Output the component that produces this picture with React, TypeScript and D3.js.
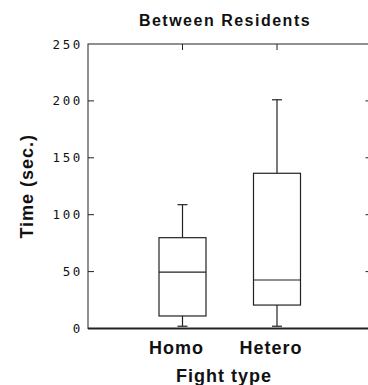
import { useRef, useEffect } from 'react';
import * as d3 from 'd3';

const categories = ['Homo', 'Hetero'];
const whiskerLow = [2, 2];
const quartile1 = [11, 20.6];
const medians = [49.5, 42.6];
const quartile3 = [79.8, 136.4];
const whiskerHigh = [108.8, 201];
const yTicks = [0, 50, 100, 150, 200, 250];

export default function App() {
  const svgRef = useRef<SVGSVGElement>(null);

  useEffect(() => {
    if (!svgRef.current) return;
    const width = 368;
    const height = 385;
    const left = 88;
    const right = 371.5;
    const top = 44;
    const bottom = 328.5;
    const ink = '#222';

    const svg = d3.select(svgRef.current);
    svg.selectAll('*').remove();
    svg.attr('width', width).attr('height', height);

    const x = d3.scaleLinear().domain([0, categories.length + 1]).range([left, right]);
    const y = d3.scaleLinear().domain([0, 250]).range([bottom, top]);

    // Frame
    svg.append('rect')
      .attr('x', left).attr('y', top)
      .attr('width', right - left).attr('height', bottom - top)
      .attr('fill', 'none').attr('stroke', ink).attr('stroke-width', 1);
    svg.append('line')
      .attr('x1', left).attr('x2', right)
      .attr('y1', bottom).attr('y2', bottom)
      .attr('stroke', ink).attr('stroke-width', 1.8);

    // Y ticks, left and right, pointing inward
    const yAxis = svg.append('g');
    yTicks.forEach(t => {
      if (t > 0 && t < 250) {
        yAxis.append('line')
          .attr('x1', left).attr('x2', left + 6)
          .attr('y1', y(t)).attr('y2', y(t))
          .attr('stroke', ink);
        yAxis.append('line')
          .attr('x1', right).attr('x2', right - 6)
          .attr('y1', y(t)).attr('y2', y(t))
          .attr('stroke', ink);
      }
      yAxis.append('text')
        .attr('x', 83)
        .attr('y', y(t))
        .attr('dy', '0.36em')
        .attr('text-anchor', 'end')
        .attr('font-family', '"DejaVu Sans Mono", monospace')
        .attr('font-size', 12.5)
        .attr('letter-spacing', 2.6)
        .attr('fill', '#111')
        .text(String(t));
    });

    // Top ticks at categories
    categories.forEach((_, i) => {
      svg.append('line')
        .attr('x1', x(i + 1)).attr('x2', x(i + 1))
        .attr('y1', top).attr('y2', top + 6)
        .attr('stroke', ink);
    });

    // Boxes
    const half = 23.5;
    const cap = 5;
    categories.forEach((_, i) => {
      const cx = x(i + 1);
      const g = svg.append('g').attr('stroke', ink).attr('stroke-width', 1.2).attr('fill', 'none');
      g.append('line').attr('x1', cx).attr('x2', cx).attr('y1', y(quartile3[i])).attr('y2', y(whiskerHigh[i]));
      g.append('line').attr('x1', cx - cap).attr('x2', cx + cap).attr('y1', y(whiskerHigh[i])).attr('y2', y(whiskerHigh[i]));
      g.append('line').attr('x1', cx).attr('x2', cx).attr('y1', y(quartile1[i])).attr('y2', y(whiskerLow[i]));
      g.append('line').attr('x1', cx - cap).attr('x2', cx + cap).attr('y1', y(whiskerLow[i])).attr('y2', y(whiskerLow[i]));
      g.append('rect')
        .attr('x', cx - half).attr('y', y(quartile3[i]))
        .attr('width', half * 2).attr('height', y(quartile1[i]) - y(quartile3[i]))
        .attr('fill', '#fff');
      g.append('line').attr('x1', cx - half).attr('x2', cx + half).attr('y1', y(medians[i])).attr('y2', y(medians[i]));
    });

    const font = '"Liberation Sans", Arial, sans-serif';

    // Category labels
    categories.forEach((c, i) => {
      svg.append('text')
        .attr('x', x(i + 1) - 6)
        .attr('y', 354)
        .attr('text-anchor', 'middle')
        .attr('font-family', font)
        .attr('font-weight', 'bold')
        .attr('font-size', 18)
        .attr('letter-spacing', 1)
        .attr('fill', '#111')
        .text(c);
    });

    // Axis titles
    svg.append('text')
      .attr('x', 224).attr('y', 382)
      .attr('text-anchor', 'middle')
      .attr('font-family', font).attr('font-weight', 'bold')
      .attr('font-size', 18).attr('letter-spacing', 1)
      .attr('fill', '#111')
      .text('Fight type');

    svg.append('text')
      .attr('transform', `translate(33,${(top + bottom) / 2}) rotate(-90)`)
      .attr('text-anchor', 'middle')
      .attr('font-family', font).attr('font-weight', 'bold')
      .attr('font-size', 18).attr('letter-spacing', 1)
      .attr('fill', '#111')
      .text('Time (sec.)');

    // Title
    svg.append('text')
      .attr('x', 225).attr('y', 26)
      .attr('text-anchor', 'middle')
      .attr('font-family', font).attr('font-weight', 'bold')
      .attr('font-size', 16).attr('letter-spacing', 1.5)
      .attr('fill', '#111')
      .text('Between Residents');
  }, []);

  return (
    <svg ref={svgRef} style={{ position: 'absolute', left: 0, top: 0, background: '#fff' }} />
  );
}
